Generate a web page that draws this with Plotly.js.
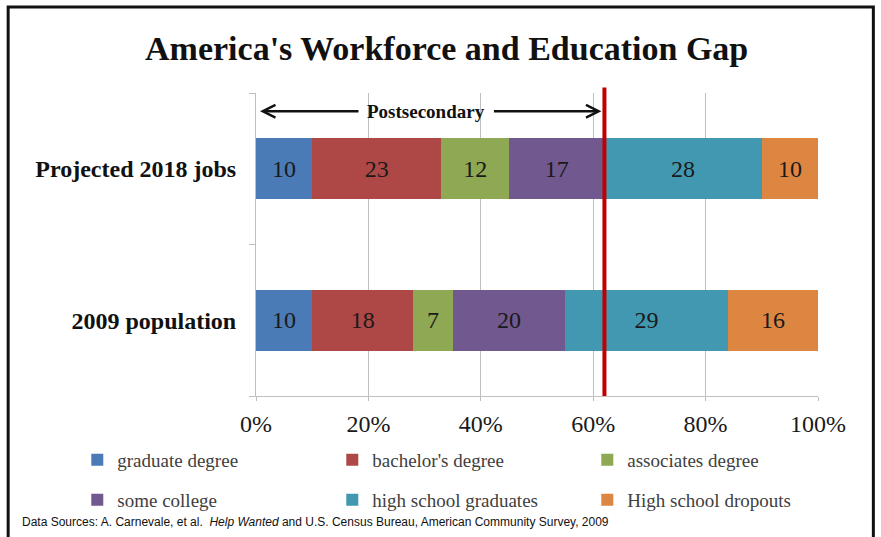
<!DOCTYPE html>
<html>
<head>
<meta charset="utf-8">
<script src="https://cdn.plot.ly/plotly-3.0.1.min.js"></script>
<style>html,body{margin:0;padding:0;background:#fff;}#chart{width:881px;height:537px;}</style>
</head>
<body>
<div id="chart"></div>
<script>
// ---- data ----
const categories = ["2009 population", "Projected 2018 jobs"];
const seriesNames = ["graduate degree", "bachelor's degree", "associates degree", "some college", "high school graduates", "High school dropouts"];
const graduate = [10, 10];
const bachelor = [18, 23];
const associates = [7, 12];
const someCollege = [20, 17];
const hsGraduates = [29, 28];
const hsDropouts = [16, 10];
const xTickVals = [0, 20, 40, 60, 80, 100];
const xTickLabels = ["0%", "20%", "40%", "60%", "80%", "100%"];
const postsecondaryLabel = "Postsecondary";
const titleText = "America's Workforce and Education Gap";
const sourceText = "Data Sources: A. Carnevale, et al.  <i>Help Wanted</i> and U.S. Census Bureau, American Community Survey, 2009";

const seriesValues = [graduate, bachelor, associates, someCollege, hsGraduates, hsDropouts];
const colors = ["#4a7bb7", "#ae4846", "#8ea853", "#71598f", "#4298b0", "#dc8642"];

// postsecondary share of projected jobs (first four series)
const projIdx = 1;
const postsecondary = graduate[projIdx] + bachelor[projIdx] + associates[projIdx] + someCollege[projIdx];

const serif = "Liberation Serif, Times New Roman, serif";

const traces = seriesValues.map((vals, i) => ({
  type: "bar",
  orientation: "h",
  name: seriesNames[i],
  y: categories,
  x: vals,
  text: vals.map(String),
  textposition: "inside",
  insidetextanchor: "middle",
  textangle: 0,
  textfont: {family: serif, size: 24, color: "#1a1a1a"},
  marker: {color: colors[i], line: {width: 0}},
  hoverinfo: "skip",
  legend: i < 3 ? "legend" : "legend2"
}));

const legendCommon = {
  orientation: "h",
  traceorder: "normal",
  xanchor: "left",
  yanchor: "middle",
  x: -0.318,
  font: {family: serif, size: 19, color: "#404040"},
  entrywidth: 210,
  entrywidthmode: "pixels",
  bgcolor: "rgba(0,0,0,0)",
  itemclick: false,
  itemdoubleclick: false
};

const layout = {
  width: 881,
  height: 537,
  margin: {l: 256, r: 63, t: 93, b: 141},
  paper_bgcolor: "#ffffff",
  plot_bgcolor: "#ffffff",
  barmode: "stack",
  bargap: 0.6,
  title: {
    text: "<b>" + titleText + "</b>",
    font: {family: serif, size: 34, color: "#111111"},
    x: 0.507, xref: "container", xanchor: "center",
    y: 0.911, yref: "container", yanchor: "middle"
  },
  xaxis: {
    range: [0, 100],
    tickmode: "array",
    tickvals: xTickVals,
    ticktext: xTickLabels,
    showgrid: true,
    gridcolor: "#bfbfbf",
    gridwidth: 1,
    zeroline: false,
    showline: true,
    linecolor: "#bfbfbf",
    linewidth: 1,
    ticks: "outside",
    ticklen: 4,
    tickcolor: "#bfbfbf",
    ticklabelstandoff: 2,
    tickfont: {family: serif, size: 24, color: "#1a1a1a"},
    fixedrange: true
  },
  yaxis: {
    type: "category",
    categoryorder: "array",
    categoryarray: categories,
    showgrid: false,
    zeroline: false,
    showline: true,
    linecolor: "#bfbfbf",
    linewidth: 1,
    ticks: "outside",
    tickson: "boundaries",
    ticklen: 6,
    tickcolor: "#bfbfbf",
    ticklabelstandoff: 14,
    tickfont: {family: serif, size: 24, color: "#111111", weight: "bold"},
    fixedrange: true
  },
  legend: Object.assign({}, legendCommon, {y: -0.211}),
  legend2: Object.assign({}, legendCommon, {y: -0.343}),
  shapes: [
    {
      type: "line", xref: "x", yref: "paper",
      x0: postsecondary, x1: postsecondary, y0: 0, y1: 1.018,
      line: {color: "#c00000", width: 4}, layer: "above"
    },
    {
      type: "rect", xref: "paper", yref: "paper",
      x0: -0.441, x1: 1.0985, y0: -0.6, y1: 1.284,
      line: {color: "#111111", width: 3}, fillcolor: "rgba(0,0,0,0)", layer: "above"
    }
  ],
  annotations: [
    {
      xref: "x", yref: "paper", x: postsecondary / 2, y: 0.94,
      text: "<b>" + postsecondaryLabel + "</b>",
      showarrow: false,
      font: {family: serif, size: 19, color: "#111111"},
      xanchor: "center", yanchor: "middle",
      xshift: -4
    },
    {
      xref: "x", yref: "paper", x: 0, y: 0.94,
      text: "", showarrow: true, ax: 104, ay: 0,
      arrowhead: 5, arrowsize: 1, arrowwidth: 2.5, arrowcolor: "#111111", standoff: 4
    },
    {
      xref: "x", yref: "paper", x: postsecondary, y: 0.94,
      text: "", showarrow: true, ax: -112, ay: 0,
      arrowhead: 5, arrowsize: 1, arrowwidth: 2.5, arrowcolor: "#111111", standoff: 3
    },
    {
      xref: "paper", yref: "paper", x: -0.42, y: -0.416,
      xanchor: "left", yanchor: "middle",
      text: sourceText, showarrow: false,
      font: {family: "Liberation Sans, Arial, sans-serif", size: 12, color: "#111111"}
    }
  ]
};

Plotly.newPlot("chart", traces, layout, {displayModeBar: false, staticPlot: true});
</script>
</body>
</html>
